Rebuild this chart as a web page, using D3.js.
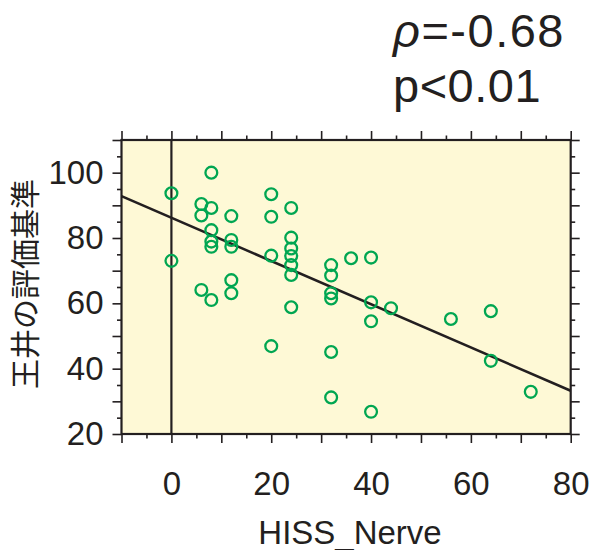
<!DOCTYPE html>
<html>
<head>
<meta charset="utf-8">
<script src="https://cdn.jsdelivr.net/npm/d3@7"></script>
<style>
  html, body { margin: 0; padding: 0; background: #ffffff; }
  svg { display: block; }
</style>
</head>
<body>
<div id="chart"></div>
<script>
// ---- data ----
const hissNerve = [0, 0, 6, 6, 6, 8, 8, 8, 8, 8, 8, 12, 12, 12, 12, 12, 20, 20, 20, 20,
  24, 24, 24, 24, 24, 24, 24, 32, 32, 32, 32, 32, 32, 36, 40, 40, 40, 40, 44, 56, 64, 64, 72];
const score = [93.7, 73.0, 90.4, 86.9, 64.1, 100, 89.2, 82.4, 78.9, 77.3, 61.0, 86.7, 79.4, 77.3, 67.1, 63.1,
  93.4, 86.5, 74.6, 46.9, 89.2, 80.1, 76.8, 74.5, 71.7, 68.7, 58.8, 71.7, 68.5, 63.1, 61.5, 45.1, 31.2,
  73.8, 74.0, 60.3, 54.5, 26.8, 58.5, 55.2, 57.6, 42.4, 32.9];
const fitIntercept = 86.2;
const fitSlope = -0.662;
const xDomain = [-10, 80];
const yDomain = [20, 110];
const xTickLabels = [0, 20, 40, 60, 80];
const yTickLabels = [20, 40, 60, 80, 100];
const statLines = ["=-0.68", "p<0.01"];
const xTitle = "HISS_Nerve";
const yTitle = "王井の評価基準";

// ---- layout ----
const W = 593, H = 550;
const L = 121.5, R = 570.7, T = 140, B = 434;
const ink = "#231f20";
const green = "#00a651";
const font = "'Liberation Sans', Arial, Helvetica, sans-serif";

const svg = d3.select("#chart").append("svg").attr("width", W).attr("height", H);

const x = d3.scaleLinear().domain(xDomain).range([L, R]);
const y = d3.scaleLinear().domain(yDomain).range([B, T]);

// background
svg.append("rect").attr("x", L).attr("y", T).attr("width", R - L).attr("height", B - T)
  .attr("fill", "#fef9d6");

const xMajor = d3.range(-10, 81, 10);
const xMinor = d3.range(-5, 81, 10);
const yMajor = d3.range(20, 111, 10);
const yMinor = d3.range(25, 111, 10);
const fmtX = d => xTickLabels.includes(d) ? d : "";
const fmtY = d => yTickLabels.includes(d) ? d : "";

function styleAxis(g) {
  g.select(".domain").remove();
  g.selectAll(".tick line").attr("stroke", ink).attr("stroke-width", 1.6);
  g.selectAll(".tick text").attr("fill", ink).style("font-family", font).style("font-size", "33px");
}

// bottom
svg.append("g").attr("transform", `translate(0,${B})`)
  .call(d3.axisBottom(x).tickValues(xMajor).tickSize(9).tickPadding(29).tickFormat(fmtX)).call(styleAxis);
svg.append("g").attr("transform", `translate(0,${B})`)
  .call(d3.axisBottom(x).tickValues(xMinor).tickSize(4.5).tickFormat("")).call(styleAxis);
// top
svg.append("g").attr("transform", `translate(0,${T})`)
  .call(d3.axisTop(x).tickValues(xMajor).tickSize(9).tickFormat("")).call(styleAxis);
svg.append("g").attr("transform", `translate(0,${T})`)
  .call(d3.axisTop(x).tickValues(xMinor).tickSize(4.5).tickFormat("")).call(styleAxis);
// left
svg.append("g").attr("transform", `translate(${L},0)`)
  .call(d3.axisLeft(y).tickValues(yMajor).tickSize(9).tickPadding(9).tickFormat(fmtY)).call(styleAxis);
svg.append("g").attr("transform", `translate(${L},0)`)
  .call(d3.axisLeft(y).tickValues(yMinor).tickSize(4.5).tickFormat("")).call(styleAxis);
// right
svg.append("g").attr("transform", `translate(${R},0)`)
  .call(d3.axisRight(y).tickValues(yMajor).tickSize(9).tickFormat("")).call(styleAxis);
svg.append("g").attr("transform", `translate(${R},0)`)
  .call(d3.axisRight(y).tickValues(yMinor).tickSize(4.5).tickFormat("")).call(styleAxis);

// vertical line at x=0
svg.append("line").attr("x1", x(0)).attr("x2", x(0)).attr("y1", T).attr("y2", B)
  .attr("stroke", ink).attr("stroke-width", 2.2);

// regression line
svg.append("line")
  .attr("x1", x(xDomain[0])).attr("y1", y(fitIntercept + fitSlope * xDomain[0]))
  .attr("x2", x(xDomain[1])).attr("y2", y(fitIntercept + fitSlope * xDomain[1]))
  .attr("stroke", ink).attr("stroke-width", 2.6);

// points
svg.append("g").selectAll("circle").data(hissNerve.map((v, i) => [v, score[i]])).join("circle")
  .attr("cx", d => x(d[0])).attr("cy", d => y(d[1])).attr("r", 5.9)
  .attr("fill", "none").attr("stroke", green).attr("stroke-width", 2.3);

// frame
svg.append("rect").attr("x", L).attr("y", T).attr("width", R - L).attr("height", B - T)
  .attr("fill", "none").attr("stroke", ink).attr("stroke-width", 2.2);

// axis titles
svg.append("text").attr("x", 350).attr("y", 544).attr("text-anchor", "middle")
  .attr("fill", ink).style("font-family", font).style("font-size", "33px").text(xTitle);
svg.append("text").attr("transform", "translate(36,284) rotate(-90)").attr("text-anchor", "middle")
  .attr("fill", ink).style("font-family", "'Noto Sans CJK JP', sans-serif").style("font-size", "30px").text(yTitle);

// stats
const t1 = svg.append("text").attr("x", 393).attr("y", 47.3).attr("fill", ink)
  .style("font-family", font).style("font-size", "47px").style("letter-spacing", "1.5px");
t1.append("tspan").style("font-style", "italic").text("ρ");
t1.append("tspan").text(statLines[0]);
svg.append("text").attr("x", 393).attr("y", 101.5).attr("fill", ink)
  .style("font-family", font).style("font-size", "47px").style("letter-spacing", "0.5px").text(statLines[1]);
</script>
</body>
</html>
